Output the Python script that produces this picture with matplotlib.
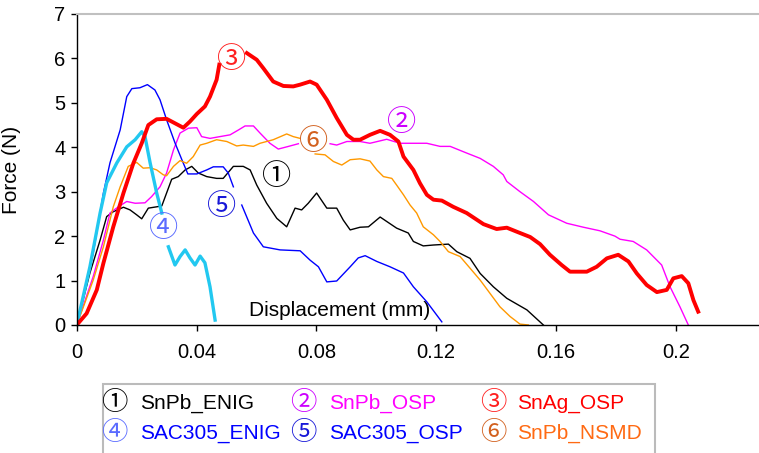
import numpy as np
import matplotlib
matplotlib.use("Agg")
import matplotlib.pyplot as plt
from matplotlib.patches import Rectangle

plt.rcParams["font.family"] = ["Liberation Sans", "Noto Sans CJK SC", "DejaVu Sans"]
plt.rcParams["font.size"] = 14.5

nan = np.nan

# displacement (mm) / force (N); nan = break in the line under a label
snpb_enig_x = [0, 0.0044, 0.0078, 0.0100, 0.0122, 0.0156, 0.0178, 0.0200, 0.0217, 0.0239, 0.0267, 0.0284,
               0.0300, 0.0317, 0.0339, 0.0362, 0.0384, 0.0406, 0.0434, 0.0467, 0.0489, 0.0523, 0.0556, 0.0579,
               0.0601, 0.0634, 0.0668, 0.0701, 0.0729, 0.0751, 0.0773, 0.0801, 0.0835, 0.0868, 0.0890, 0.0913,
               0.0946, 0.0974, 0.1013, 0.1035, 0.1068, 0.1107, 0.1124, 0.1157, 0.1191, 0.1241, 0.1269, 0.1313,
               0.1347, 0.1391, 0.1436, 0.1503, 0.1558]
snpb_enig_f = [0, 1.17, 1.91, 2.44, 2.55, 2.65, 2.59, 2.48, 2.39, 2.63, 2.66, 2.68,
               2.97, 3.28, 3.34, 3.49, 3.57, 3.42, 3.34, 3.30, 3.30, 3.57, 3.57, 3.49,
               3.15, 2.74, 2.40, 2.21, 2.63, 2.59, 2.74, 2.97, 2.63, 2.63, 2.36, 2.14,
               2.20, 2.21, 2.43, 2.33, 2.18, 2.07, 1.88, 1.78, 1.80, 1.82, 1.65, 1.50,
               1.16, 0.86, 0.60, 0.34, 0.0]

snpb_osp_x = [0, 0.0055, 0.0089, 0.0111, 0.0139, 0.0167, 0.0195, 0.0228, 0.0250, 0.0278, 0.0300, 0.0323,
              0.0345, 0.0373, 0.0401, 0.0417, 0.0445, 0.0478, 0.0512, 0.0540, 0.0562, 0.0590, 0.0612, 0.0645,
              0.0673, 0.0707, 0.0740, 0.0790, 0.0846, 0.0868, 0.0902, 0.0946, 0.0979, 0.1035, 0.1079, 0.1169,
              0.1213, 0.1247, 0.1302, 0.1347, 0.1391, 0.1424, 0.1436, 0.1480, 0.1525, 0.1575, 0.1636, 0.1692,
              0.1747, 0.1797, 0.1814, 0.1858, 0.1903, 0.1953, 0.1981, 0.2014, 0.2042]
snpb_osp_f = [0, 1.09, 1.91, 2.52, 2.66, 2.78, 2.74, 2.75, 2.89, 3.11, 3.42, 3.94,
              4.32, 4.43, 4.44, 4.24, 4.20, 4.24, 4.28, 4.39, 4.48, 4.48, 4.32, 4.09,
              3.96, 4.02, 4.08, nan, 4.08, 4.05, 4.13, 4.13, 4.09, 4.18, 4.09, 4.09,
              4.02, 4.02, 3.87, 3.75, 3.57, 3.38, 3.23, 3.00, 2.78, 2.48, 2.29, 2.20,
              2.12, 2.00, 1.93, 1.88, 1.69, 1.35, 0.86, 0.41, 0.0]

snag_osp_x = [0, 0.0033, 0.0067, 0.0089, 0.0122, 0.0156, 0.0189, 0.0217, 0.0239, 0.0267, 0.0300, 0.0328,
              0.0356, 0.0378, 0.0401, 0.0428, 0.0445, 0.0467, 0.0476, 0.0520, 0.0568, 0.0601, 0.0623, 0.0656,
              0.0690, 0.0723, 0.0746, 0.0779, 0.0801, 0.0835, 0.0868, 0.0902, 0.0924, 0.0946, 0.0979, 0.1013,
              0.1046, 0.1074, 0.1091, 0.1124, 0.1146, 0.1169, 0.1191, 0.1219, 0.1257, 0.1302, 0.1358, 0.1402,
              0.1436, 0.1469, 0.1514, 0.1547, 0.1580, 0.1619, 0.1647, 0.1703, 0.1736, 0.1770, 0.1808, 0.1842,
              0.1870, 0.1903, 0.1937, 0.1970, 0.1992, 0.2020, 0.2042, 0.2059, 0.2075]
snag_osp_f = [0, 0.26, 0.79, 1.39, 2.21, 2.97, 3.64, 4.09, 4.50, 4.63, 4.64, 4.54,
              4.44, 4.58, 4.75, 4.92, 5.14, 5.52, 5.86, nan, 6.12, 5.97, 5.78, 5.48,
              5.38, 5.37, 5.41, 5.48, 5.41, 5.07, 4.66, 4.28, 4.17, 4.17, 4.28, 4.37,
              4.28, 4.13, 3.79, 3.49, 3.19, 2.93, 2.82, 2.80, 2.66, 2.52, 2.27, 2.16,
              2.19, 2.10, 1.98, 1.82, 1.58, 1.35, 1.20, 1.20, 1.31, 1.50, 1.58, 1.43,
              1.16, 0.90, 0.74, 0.79, 1.05, 1.10, 0.94, 0.56, 0.30]

sac305_enig_x = [0, 0.0044, 0.0078, 0.0100, 0.0134, 0.0167, 0.0195, 0.0217, 0.0228, 0.0245, 0.0267, 0.0284,
                 0.0295, 0.0306, 0.0328, 0.0345, 0.0362, 0.0378, 0.0395, 0.0412, 0.0428, 0.0445, 0.0462]
sac305_enig_f = [0, 1.31, 2.52, 3.20, 3.65, 4.01, 4.17, 4.35, 4.24, 3.65, 2.97, 2.52,
                 nan, 1.76, 1.35, 1.54, 1.69, 1.51, 1.35, 1.55, 1.40, 0.86, 0.11]

sac305_osp_x = [0, 0.0055, 0.0089, 0.0111, 0.0145, 0.0167, 0.0184, 0.0211, 0.0236, 0.0261, 0.0278, 0.0300,
                0.0328, 0.0351, 0.0371, 0.0401, 0.0434, 0.0456, 0.0489, 0.0506, 0.0523, 0.0537, 0.0551, 0.0590,
                0.0623, 0.0679, 0.0746, 0.0779, 0.0807, 0.0835, 0.0868, 0.0913, 0.0940, 0.0963, 0.1002, 0.1046,
                0.1091, 0.1124, 0.1169, 0.1219]
sac305_osp_f = [0, 1.62, 2.97, 3.65, 4.39, 5.14, 5.32, 5.34, 5.41, 5.29, 5.07, 4.62,
                4.10, 3.72, 3.40, 3.40, 3.49, 3.56, 3.56, 3.42, 3.11, nan, 2.70, 2.07,
                1.76, 1.69, 1.67, 1.46, 1.31, 0.97, 0.99, 1.31, 1.51, 1.56, 1.43, 1.31,
                1.17, 0.86, 0.52, 0.07]

snpb_nsmd_x = [0, 0.0055, 0.0089, 0.0122, 0.0145, 0.0172, 0.0200, 0.0222, 0.0245, 0.0267, 0.0289, 0.0300,
               0.0323, 0.0345, 0.0367, 0.0389, 0.0412, 0.0434, 0.0467, 0.0501, 0.0534, 0.0556, 0.0590, 0.0612,
               0.0656, 0.0701, 0.0723, 0.0746, 0.0770, 0.0796, 0.0829, 0.0857, 0.0885, 0.0913, 0.0946, 0.0979,
               0.1002, 0.1024, 0.1052, 0.1068, 0.1091, 0.1113, 0.1135, 0.1157, 0.1191, 0.1213, 0.1241, 0.1280,
               0.1313, 0.1347, 0.1380, 0.1413, 0.1447, 0.1480, 0.1508]
snpb_nsmd_f = [0, 1.01, 1.76, 2.66, 3.11, 3.57, 3.66, 3.53, 3.54, 3.49, 3.38, 3.36,
               3.57, 3.70, 3.64, 3.79, 4.05, 4.09, 4.17, 4.13, 4.03, 4.05, 4.02, 4.09,
               4.17, 4.30, 4.24, 4.20, nan, 3.85, 3.83, 3.68, 3.60, 3.72, 3.74, 3.69,
               3.49, 3.34, 3.30, 3.15, 2.93, 2.70, 2.52, 2.21, 2.03, 1.88, 1.65, 1.54,
               1.28, 1.01, 0.71, 0.41, 0.19, 0.02, 0.0]

# circled-number labels placed on the curves
mark_text = ["①", "②", "③", "④", "⑤", "⑥"]
mark_x = [0.0668, 0.1085, 0.0518, 0.0289, 0.0484, 0.0790]
mark_f = [3.33, 4.54, 5.97, 2.16, 2.66, 4.12]
mark_colors = ["black", "#CC00FF", "#FF2020", "#5A6BFF", "#1818D8", "#D2601E"]

legend_names = ["SnPb_ENIG", "SnPb_OSP", "SnAg_OSP", "SAC305_ENIG", "SAC305_OSP", "SnPb_NSMD"]
legend_colors = ["black", "#FF00FF", "#FF0000", "#0000FF", "#0000FF", "#FF6A13"]

fig = plt.figure(figsize=(7.59, 4.53), dpi=100)
ax = fig.add_axes([0.1011, 0.2826, 0.8989, 0.6865])

ax.plot(snpb_enig_x, snpb_enig_f, color="black", lw=1.0)
ax.plot(snpb_osp_x, snpb_osp_f, color="#FF00FF", lw=1.0)
ax.plot(sac305_osp_x, sac305_osp_f, color="#0000FF", lw=1.0)
ax.plot(snpb_nsmd_x, snpb_nsmd_f, color="#FF9900", lw=1.0)
ax.plot(sac305_enig_x, sac305_enig_f, color="#22C8F0", lw=2.4)
ax.plot(snag_osp_x, snag_osp_f, color="#FF0000", lw=2.8)

for t, x, f, c in zip(mark_text, mark_x, mark_f, mark_colors):
    ax.text(x, f, t, color=c, fontsize=21, ha="center", va="center")

ax.set_xlim(0, 0.2278)
ax.set_ylim(0, 7)
ax.set_xticks([0, 0.04, 0.08, 0.12, 0.16, 0.2])
ax.set_xticklabels(["0", "0.04", "0.08", "0.12", "0.16", "0.2"])
ax.set_yticks(range(8))
ax.tick_params(direction="out", length=4, width=1, color="black", labelsize=14.5)
ax.tick_params(axis="x", pad=9)
ax.tick_params(axis="y", pad=4)

ax.spines["right"].set_visible(False)
ax.spines["top"].set_color("#C0C0C0")
ax.spines["top"].set_linewidth(1.5)
for s in ["left", "bottom"]:
    ax.spines[s].set_linewidth(1.0)

ax.set_xlabel("Displacement (mm)", fontsize=15)
ax.xaxis.set_label_coords(0.386, 0.078)
ax.set_ylabel("Force (N)", fontsize=15)
ax.yaxis.set_label_coords(-0.081, 0.5)

# legend box below the plot (its bottom edge is cut off by the figure)
fig.patches.append(Rectangle((0.1353, -0.05), 0.7277, 0.2023, transform=fig.transFigure,
                             facecolor="white", edgecolor="#BBBBBB", lw=1.5))
col_circle = [0.150, 0.399, 0.650]
col_text = [0.1845, 0.4339, 0.6808]
row_y = [0.1097, 0.0435]
for i in range(6):
    r, c = divmod(i, 3)
    fig.text(col_circle[c], row_y[r], mark_text[i], color=mark_colors[i], fontsize=19,
             ha="center", va="center")
    fig.text(col_text[c], row_y[r], legend_names[i], color=legend_colors[i], fontsize=15,
             ha="left", va="center")

fig.savefig("out.png", dpi=100)
